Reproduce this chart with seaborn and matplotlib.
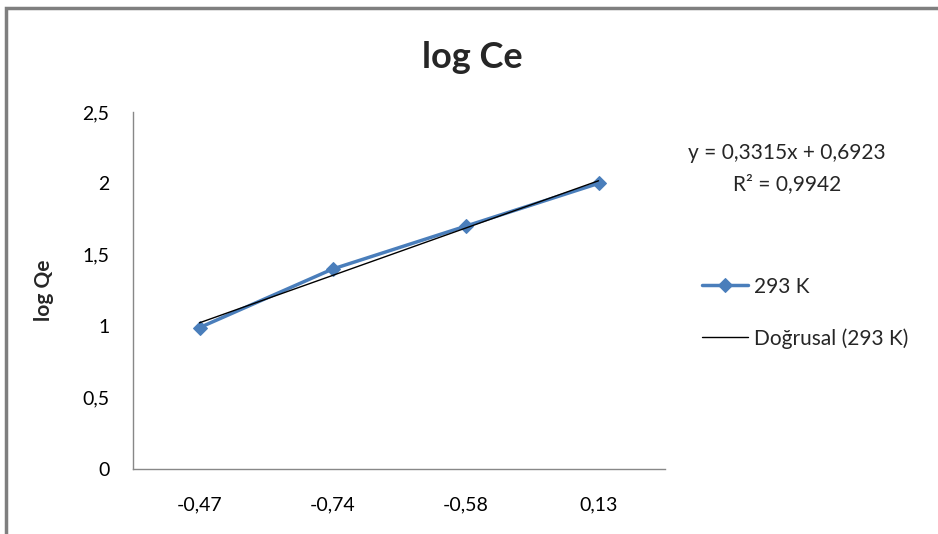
import matplotlib
matplotlib.use("Agg")
import matplotlib.pyplot as plt
import seaborn as sns
import numpy as np
import pandas as pd
from matplotlib.patches import Rectangle

categories = ["-0,47", "-0,74", "-0,58", "0,13"]
log_qe = [0.99, 1.40, 1.70, 2.00]
series_name = "293 K"
trend_name = "Doğrusal (293 K)"
slope = 0.3315
intercept = 0.6923
r2 = 0.9942
y_ticks = [0, 0.5, 1, 1.5, 2, 2.5]
y_tick_labels = ["0", "0,5", "1", "1,5", "2", "2,5"]

sns.set_theme(style="white")
plt.rcParams['font.family'] = ['Lato', 'DejaVu Sans']

fig = plt.figure(figsize=(9.38, 5.34), dpi=100)
ax = fig.add_axes([133/938, 1 - 469/534, (665-133)/938, (469-112)/534])

pos = np.arange(len(categories))
df = pd.DataFrame({"x": pos, "y": log_qe})
trend_x = pos
trend_y = slope * (trend_x + 1) + intercept
tdf = pd.DataFrame({"x": trend_x, "y": trend_y})

sns.lineplot(data=df, x="x", y="y", ax=ax, color="#4a7ebb", linewidth=2.5,
             marker="D", markersize=7, markeredgecolor="#4a7ebb", label=series_name)
sns.lineplot(data=tdf, x="x", y="y", ax=ax, color="black", linewidth=1,
             label=trend_name)

ax.set_xlim(-0.5, len(categories) - 0.5)
ax.set_ylim(0, 2.5)
ax.set_xticks(pos)
ax.set_xticklabels(categories, fontsize=14)
ax.set_yticks(y_ticks)
ax.set_yticklabels(y_tick_labels, fontsize=14)
ax.tick_params(axis="both", length=0, colors="black")
ax.tick_params(axis="y", pad=17)
ax.tick_params(axis="x", pad=20)
ax.set_xlabel("")
ax.set_ylabel("log Qe", fontsize=15, fontweight="bold", labelpad=20)
for s in ["top", "right"]:
    ax.spines[s].set_visible(False)
for s in ["left", "bottom"]:
    ax.spines[s].set_color("#888888")
    ax.spines[s].set_linewidth(1)

leg = ax.legend(loc="upper left", bbox_to_anchor=(683/938, 1 - 258/534),
                bbox_transform=fig.transFigure, frameon=False, fontsize=15,
                handlelength=2.2, labelspacing=1.5, handletextpad=0.3)

fig.text(472/938, 1 - 58/534, "log Ce", ha="center", va="center",
         fontsize=26, fontweight="bold")
fig.text(787/938, 1 - 153/534, f"y = {slope:.4f}x + {intercept:.4f}".replace(".", ","),
         ha="center", va="center", fontsize=15)
fig.text(787/938, 1 - 184/534, f"R² = {r2:.4f}".replace(".", ","),
         ha="center", va="center", fontsize=15)

fig.patches.append(Rectangle((6/938, -0.05), 1.1, 1 - 8/534 + 0.05,
                             transform=fig.transFigure, fill=False,
                             edgecolor="#7f7f7f", linewidth=2.5))

fig.savefig("out.png", dpi=100)
